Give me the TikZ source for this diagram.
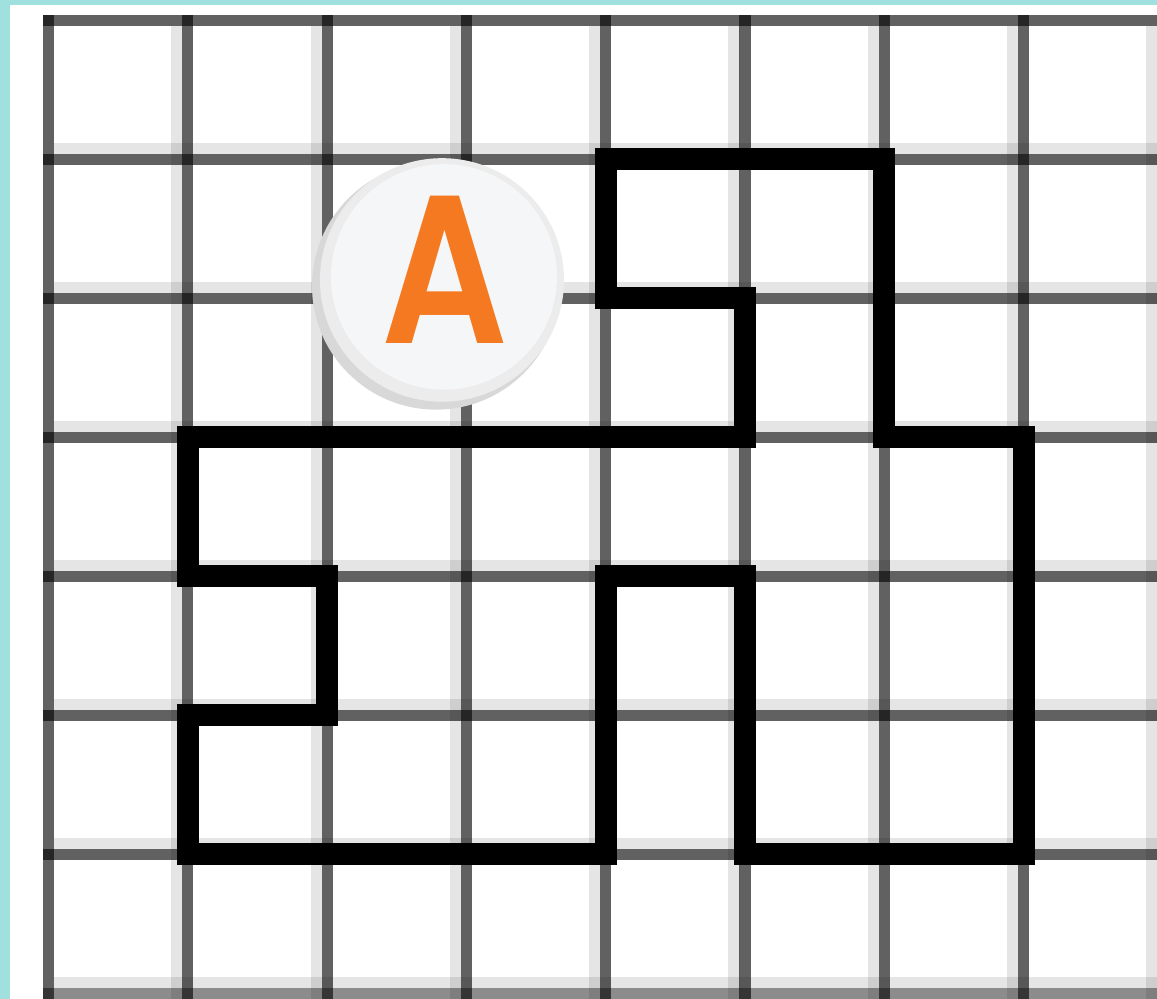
\documentclass[tikz,border=0pt]{standalone}
\usepackage{fontspec}
\newfontfamily\coinfont{Poppins}[BoldFont = {Poppins SemiBold}]
\definecolor{bordercyan}{RGB}{160,224,222}
\definecolor{coinorange}{RGB}{244,121,32}
\definecolor{coinface}{RGB}{245,246,248}
\definecolor{coinrim}{RGB}{236,236,236}
\definecolor{coinedge}{RGB}{216,216,216}
\tikzset{
  gridline/.style = {line width = 6.3pt, black, opacity = 0.62},
  ghostline/.style = {line width = 6.3pt, black, opacity = 0.1},
  walk/.style = {line width = 12.5pt, black, line join = miter},
}

\begin{document}
\begin{tikzpicture}[x = 2.786cm, y = -2.78cm]
            \useasboundingbox (-0.348, -0.147) rectangle (7.958, 7.04);
            \fill [bordercyan] (-0.348, -0.147) rectangle (-0.276, 7.04);
            \fill [bordercyan] (-0.348, -0.147) rectangle (7.958, -0.111);
            % ghost bands next to the grid lines
            \draw [ghostline] (0.921, 0.04) -- (0.921, 7.1);
            \draw [ghostline] (1.921, 0.04) -- (1.921, 7.1);
            \draw [ghostline] (2.921, 0.04) -- (2.921, 7.1);
            \draw [ghostline] (3.921, 0.04) -- (3.921, 7.1);
            \draw [ghostline] (4.921, 0.04) -- (4.921, 7.1);
            \draw [ghostline] (5.921, 0.04) -- (5.921, 7.1);
            \draw [ghostline] (6.921, 0.04) -- (6.921, 7.1);
            \draw [ghostline] (7.921, 0.04) -- (7.921, 7.1);
            \draw [ghostline] (0.04, 0.921) -- (8, 0.921);
            \draw [ghostline] (0.04, 1.921) -- (8, 1.921);
            \draw [ghostline] (0.04, 2.921) -- (8, 2.921);
            \draw [ghostline] (0.04, 3.921) -- (8, 3.921);
            \draw [ghostline] (0.04, 4.921) -- (8, 4.921);
            \draw [ghostline] (0.04, 5.921) -- (8, 5.921);
            \draw [ghostline] (0.04, 6.921) -- (8, 6.921);
            % grid
            \draw [gridline] (0, -0.04) -- (0, 7.1);
            \draw [gridline] (1, -0.04) -- (1, 7.1);
            \draw [gridline] (2, -0.04) -- (2, 7.1);
            \draw [gridline] (3, -0.04) -- (3, 7.1);
            \draw [gridline] (4, -0.04) -- (4, 7.1);
            \draw [gridline] (5, -0.04) -- (5, 7.1);
            \draw [gridline] (6, -0.04) -- (6, 7.1);
            \draw [gridline] (7, -0.04) -- (7, 7.1);
            \draw [gridline] (-0.04, 0) -- (8, 0);
            \draw [gridline] (-0.04, 1) -- (8, 1);
            \draw [gridline] (-0.04, 2) -- (8, 2);
            \draw [gridline] (-0.04, 3) -- (8, 3);
            \draw [gridline] (-0.04, 4) -- (8, 4);
            \draw [gridline] (-0.04, 5) -- (8, 5);
            \draw [gridline] (-0.04, 6) -- (8, 6);
            \draw [gridline, opacity = 0.45] (-0.04, 7) -- (8, 7);
            % the closed walk
            \draw [walk] (4, 1) -- (6, 1) -- (6, 3) -- (7, 3) -- (7, 6) -- (5, 6) -- (5, 4) -- (4, 4)
                -- (4, 6) -- (1, 6) -- (1, 5) -- (2, 5) -- (2, 4) -- (1, 4) -- (1, 3) -- (5, 3)
                -- (5, 2) -- (4, 2) -- cycle;
            % coin
            \fill [coinedge] (2.782, 1.910) circle [radius = 0.890];
            \fill [coinrim] (2.825, 1.867) circle [radius = 0.876];
            \fill [coinface] (2.839, 1.845) circle [radius = 0.811];
            \node [inner sep = 0, text = coinorange, font = \coinfont\bfseries\fontsize{120}{120}\selectfont]
                (coinA) at (2.846, 1.795) {\scalebox{0.84}[1]{A}};
        \end{tikzpicture}
\end{document}
